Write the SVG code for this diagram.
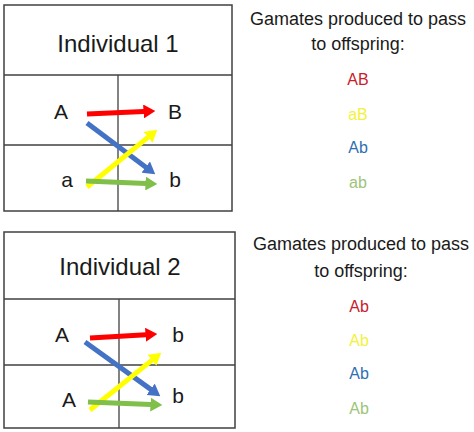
<svg xmlns="http://www.w3.org/2000/svg" width="474" height="432" viewBox="0 0 474 432">
<style>
.box{fill:#fff;stroke:#404040;stroke-width:1.5}
.ln{stroke:#404040;stroke-width:1.3;fill:none}
.hd{font-family:"Liberation Sans",Arial,sans-serif;font-size:24px;fill:#1a1a1a;text-anchor:middle}
.al{font-family:"Liberation Sans",Arial,sans-serif;font-size:21px;fill:#1a1a1a;text-anchor:middle}
.gt{font-family:"Liberation Sans",Arial,sans-serif;font-size:18px;fill:#1a1a1a;text-anchor:middle}
.gm{font-family:"Liberation Sans",Arial,sans-serif;font-size:16px;text-anchor:middle}
.ar{stroke-width:5;fill:none}
</style>
<defs>
<marker id="mr" markerUnits="userSpaceOnUse" markerWidth="12" markerHeight="14" viewBox="0 0 11 13" refX="0.5" refY="6.5" orient="auto"><path d="M0,0 L11,6.5 L0,13 z" fill="#ff0000"/></marker>
<marker id="mb" markerUnits="userSpaceOnUse" markerWidth="12" markerHeight="14" viewBox="0 0 11 13" refX="0.5" refY="6.5" orient="auto"><path d="M0,0 L11,6.5 L0,13 z" fill="#4472c4"/></marker>
<marker id="my" markerUnits="userSpaceOnUse" markerWidth="12" markerHeight="14" viewBox="0 0 11 13" refX="0.5" refY="6.5" orient="auto"><path d="M0,0 L11,6.5 L0,13 z" fill="#ffff00"/></marker>
<marker id="mg" markerUnits="userSpaceOnUse" markerWidth="12" markerHeight="14" viewBox="0 0 11 13" refX="0.5" refY="6.5" orient="auto"><path d="M0,0 L11,6.5 L0,13 z" fill="#7fbf4a"/></marker>
</defs>
<rect width="474" height="432" fill="#fff"/>

<g id="individual1">
<rect class="box" x="4" y="5" width="228" height="206"/>
<line class="ln" x1="4" y1="75" x2="232" y2="75"/>
<line class="ln" x1="4" y1="145" x2="232" y2="145"/>
<line class="ln" x1="118" y1="75" x2="118" y2="211"/>
<text class="hd" x="118" y="52">Individual 1</text>
<text class="al" x="61" y="119">A</text>
<text class="al" x="175" y="119">B</text>
<text class="al" x="67" y="187">a</text>
<text class="al" x="175" y="187">b</text>
</g>

<g id="individual2">
<rect class="box" x="4" y="232" width="231" height="196"/>
<line class="ln" x1="4" y1="299" x2="235" y2="299"/>
<line class="ln" x1="4" y1="365" x2="235" y2="365"/>
<line class="ln" x1="119" y1="299" x2="119" y2="428"/>
<text class="hd" x="120" y="275">Individual 2</text>
<text class="al" x="62" y="342">A</text>
<text class="al" x="178" y="342">b</text>
<text class="al" x="69" y="407">A</text>
<text class="al" x="178" y="403">b</text>
</g>

<g id="connectors">
<line class="ar" stroke="#ff0000" x1="87" y1="114" x2="144" y2="111.5" marker-end="url(#mr)"/>
<line class="ar" stroke="#4472c4" x1="87" y1="123" x2="146.2" y2="167.4" marker-end="url(#mb)"/>
<line class="ar" stroke="#ffff00" x1="87" y1="187" x2="148.5" y2="136.9" marker-end="url(#my)"/>
<line class="ar" stroke="#7fbf4a" x1="86" y1="181" x2="146" y2="183.5" marker-end="url(#mg)"/>

<line class="ar" stroke="#ff0000" x1="90" y1="338" x2="146" y2="334.7" marker-end="url(#mr)"/>
<line class="ar" stroke="#4472c4" x1="85" y1="342" x2="151.1" y2="389.6" marker-end="url(#mb)"/>
<line class="ar" stroke="#ffff00" x1="90" y1="410" x2="152.4" y2="359.9" marker-end="url(#my)"/>
<line class="ar" stroke="#7fbf4a" x1="88" y1="402" x2="151" y2="404.6" marker-end="url(#mg)"/>
</g>

<g id="gametes1">
<text class="gt" x="358" y="25">Gamates produced to pass</text>
<text class="gt" x="358" y="50">to offspring:</text>
<text class="gm" x="358" y="85" fill="#c8202a">AB</text>
<text class="gm" x="358" y="120" fill="#f2f23c">aB</text>
<text class="gm" x="358" y="153" fill="#2e6fb0">Ab</text>
<text class="gm" x="358" y="188" fill="#9cc47a">ab</text>
</g>

<g id="gametes2">
<text class="gt" x="361" y="250">Gamates produced to pass</text>
<text class="gt" x="361" y="277">to offspring:</text>
<text class="gm" x="359" y="312" fill="#c8202a">Ab</text>
<text class="gm" x="359" y="346" fill="#f2f23c">Ab</text>
<text class="gm" x="359" y="379" fill="#2e6fb0">Ab</text>
<text class="gm" x="359" y="414" fill="#9cc47a">Ab</text>
</g>
</svg>
